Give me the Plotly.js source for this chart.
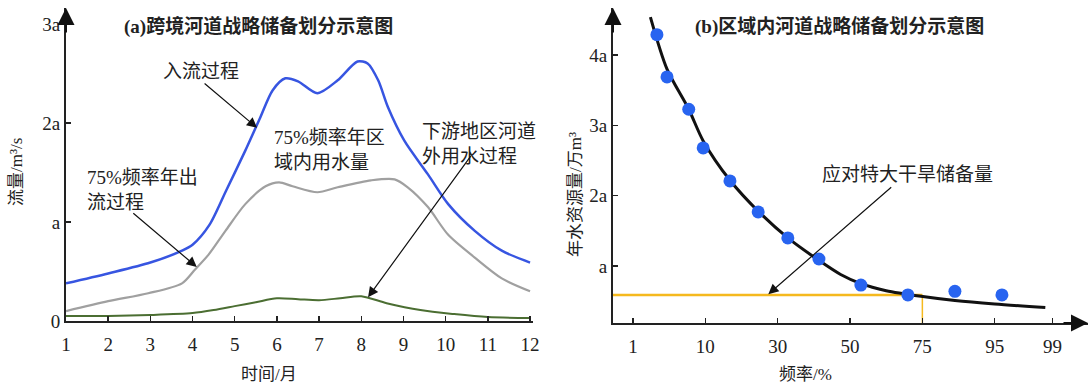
<!DOCTYPE html>
<html><head><meta charset="utf-8">
<script src="https://cdn.plot.ly/plotly-3.0.1.min.js"></script>
<style>html,body{margin:0;padding:0;background:#fff}#chart{width:1088px;height:385px}</style>
</head><body><div id="chart"></div>
<script>
// ---- Panel (a): monthly flow processes (unit: a) ----
const monthTicks = [1,2,3,4,5,6,7,8,9,10,11,12];
const monthLabels = ['1','2','3','4','5','6','7','8','9','10','11','12'];
const flowTickVals = [0,1,2,3];
const flowTickText = ['0','a','2a','3a'];

const inflowMonth = [1,2,3,3.75,4,4.4,4.8,5.25,5.6,5.9,6.2,6.5,6.96,7.44,7.91,8.15,8.4,8.63,9.02,9.58,10.06,10.69,11.33,12];
const inflowValue = [0.38,0.48,0.59,0.71,0.77,0.97,1.32,1.72,2.05,2.33,2.45,2.42,2.30,2.43,2.62,2.60,2.43,2.16,1.82,1.48,1.18,0.91,0.71,0.59];

const regionalMonth = [1,2,2.95,3.75,4.06,4.38,4.78,5.25,5.73,6.05,6.37,6.96,7.44,8.23,8.79,9.1,9.58,10.06,10.69,11.33,12];
const regionalValue = [0.10,0.20,0.28,0.38,0.52,0.67,0.91,1.18,1.36,1.40,1.36,1.30,1.35,1.42,1.43,1.35,1.15,0.87,0.64,0.43,0.30];

const downstreamMonth = [1,2,3,4,4.5,5,5.5,6,6.5,7,7.5,8,8.6,9.4,10.2,11,12];
const downstreamValue = [0.05,0.05,0.06,0.08,0.11,0.15,0.19,0.23,0.22,0.21,0.23,0.25,0.18,0.11,0.07,0.04,0.03];

// ---- Panel (b): frequency curve (schematic frequency axis positions) ----
const freqLabels = ['1','10','30','50','75','95','99'];
const freqPos = [0,1,2,3,4,5,5.8];
const volTickVals = [1,2,3,4];
const volTickText = ['a','2a','3a','4a'];

const samplePos = [0.33,0.47,0.77,0.97,1.34,1.73,2.14,2.57,3.15,3.80,4.45,5.10];
const sampleValue = [4.29,3.69,3.23,2.68,2.21,1.77,1.40,1.10,0.73,0.59,0.64,0.59];

const fitPos = [0.24,0.47,0.77,0.97,1.34,1.73,2.14,2.57,2.87,3.15,3.5,3.98,4.45,5.0,5.7];
const fitValue = [4.54,3.80,3.23,2.78,2.22,1.78,1.40,1.08,0.88,0.75,0.65,0.57,0.51,0.46,0.41];

const reserveLevel = 0.59;      // storage at 75% frequency
const reserveFreqPos = 4;       // position of 75%

const FONT = 'Liberation Serif, "Noto Sans CJK SC", serif';
const TXT = '#222';

const xr1 = [1, 12.07], yr1 = [0, 3.16];
const xr2 = [-0.277, 6.29], yr2 = [0.19, 4.67];

const traces = [
  {x: inflowMonth, y: inflowValue, xaxis:'x', yaxis:'y', mode:'lines',
   line:{color:'rgb(55,85,225)', width:2.5, shape:'spline', smoothing:0.8}, hoverinfo:'skip'},
  {x: regionalMonth, y: regionalValue, xaxis:'x', yaxis:'y', mode:'lines',
   line:{color:'rgb(160,160,160)', width:2.2, shape:'spline', smoothing:0.8}, hoverinfo:'skip'},
  {x: downstreamMonth, y: downstreamValue, xaxis:'x', yaxis:'y', mode:'lines',
   line:{color:'rgb(75,110,50)', width:2, shape:'spline', smoothing:0.8}, hoverinfo:'skip'},
  {x: [xr2[0], reserveFreqPos], y: [reserveLevel, reserveLevel], xaxis:'x2', yaxis:'y2', mode:'lines',
   line:{color:'rgb(245,185,30)', width:2.5}, hoverinfo:'skip'},
  {x: [reserveFreqPos, reserveFreqPos], y: [reserveLevel, yr2[0]], xaxis:'x2', yaxis:'y2', mode:'lines',
   line:{color:'rgb(245,185,30)', width:1.5}, hoverinfo:'skip'},
  {x: fitPos, y: fitValue, xaxis:'x2', yaxis:'y2', mode:'lines',
   line:{color:'#111', width:3, shape:'spline', smoothing:0.8}, hoverinfo:'skip'},
  {x: samplePos, y: sampleValue, xaxis:'x2', yaxis:'y2', mode:'markers',
   marker:{color:'rgb(40,100,240)', size:13}, hoverinfo:'skip'}
];

const axisCommon = {showgrid:false, zeroline:false, showline:true, linecolor:'#222', linewidth:2,
  ticks:'inside', ticklen:5, tickwidth:1.5, tickcolor:'#222', fixedrange:true,
  tickfont:{family:FONT, size:19, color:TXT}};

const ann = [];
function txt(xref, yref, x, y, text, size, opts) {
  ann.push(Object.assign({xref, yref, x, y, text, showarrow:false, xanchor:'center', yanchor:'middle',
    font:{family:FONT, size:size, color:TXT}}, opts||{}));
}
function arrow(xref, yref, x, y, ax, ay) {
  ann.push({xref, yref, axref:xref, ayref:yref, x, y, ax, ay, text:'', showarrow:true,
    arrowhead:2, arrowsize:1.7, arrowwidth:1.2, arrowcolor:'#111', standoff:0});
}
function axisArrow(xref, yref, x, y, axp, ayp) {
  ann.push({xref, yref, x, y, ax:axp, ay:ayp, text:'', showarrow:true,
    arrowhead:2, arrowsize:1.7, arrowwidth:2, arrowcolor:'#111', standoff:0});
}

// titles
txt('paper','paper', 258/1088, 1-26/385, '<b>(a)跨境河道战略储备划分示意图</b>', 19);
txt('paper','paper', 839/1088, 1-26/385, '<b>(b)区域内河道战略储备划分示意图</b>', 19);
// axis titles
txt('paper','paper', 269/1088, 1-374/385, '时间/月', 17);
txt('paper','paper', 805/1088, 1-374/385, '频率/%', 17);
txt('paper','paper', 17/1088, 1-172/385, '流量/m³/s', 17, {textangle:-90});
txt('paper','paper', 576/1088, 1-195/385, '年水资源量/万m³', 17, {textangle:-90});

// panel (a) labels
txt('x','y', 4.2, 2.52, '入流过程', 19);
txt('x','y', 5.88, 1.73, '75%频率年区<br>域内用水量', 19, {align:'left', xanchor:'left'});
txt('x','y', 1.45, 1.32, '75%频率年出<br>流过程', 19, {align:'left', xanchor:'left'});
txt('x','y', 9.38, 1.79, '下游地区河道<br>外用水过程', 19, {align:'left', xanchor:'left'});
arrow('x','y', 5.53, 1.95, 4.25, 2.41);
arrow('x','y', 4.10, 0.545, 2.56, 1.10);
arrow('x','y', 8.16, 0.24, 10.62, 1.68);

// panel (b) label
txt('x2','y2', 3.8, 2.3, '应对特大干旱储备量', 19);
arrow('x2','y2', 1.87, 0.60, 3.59, 2.14);

// axis arrows
axisArrow('x','y', 1, yr1[1], 0, 26);
axisArrow('x2','y2', xr2[0], yr2[1], 0, 26);
axisArrow('x2','y2', xr2[1], yr2[0], -26, 0);

const layout = {
  width:1088, height:385, margin:{l:0,r:0,t:0,b:0},
  paper_bgcolor:'#fff', plot_bgcolor:'rgba(0,0,0,0)', showlegend:false,
  xaxis: Object.assign({}, axisCommon, {domain:[66/1088, 533/1088], range:xr1,
    tickvals:monthTicks, ticktext:monthLabels, ticklabelstandoff:5, anchor:'y'}),
  yaxis: Object.assign({}, axisCommon, {domain:[1-321/385, 1-8/385], range:yr1,
    tickvals:flowTickVals, ticktext:flowTickText, anchor:'x'}),
  xaxis2: Object.assign({}, axisCommon, {domain:[613/1088, 1], range:xr2,
    tickvals:freqPos, ticktext:freqLabels, ticklabelstandoff:5, anchor:'y2'}),
  yaxis2: Object.assign({}, axisCommon, {domain:[1-323/385, 1-8/385], range:yr2,
    tickvals:volTickVals, ticktext:volTickText, anchor:'x2'}),
  annotations: ann
};

Plotly.newPlot('chart', traces, layout, {staticPlot:true, displayModeBar:false});
</script>
</body></html>
